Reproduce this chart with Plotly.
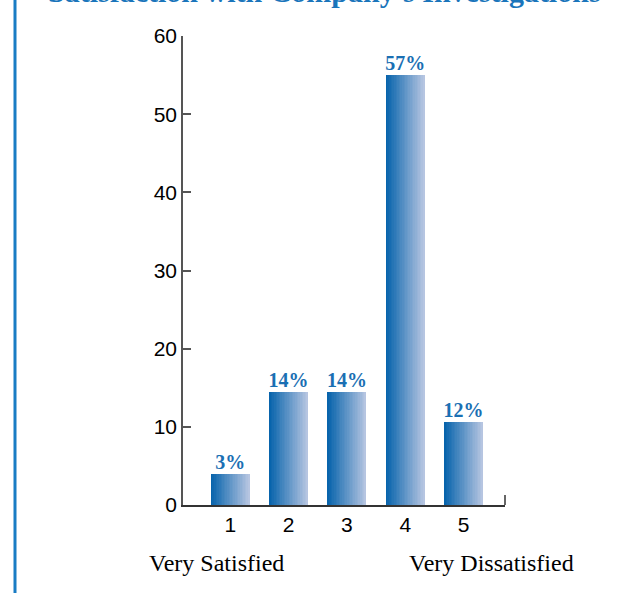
import plotly.graph_objects as go

# ---- data ----
categories = [1, 2, 3, 4, 5]
bar_values = [4.0, 14.5, 14.5, 55.0, 10.6]
bar_labels = ["3%", "14%", "14%", "57%", "12%"]
y_ticks = [0, 10, 20, 30, 40, 50, 60]
title_text = "Satisfaction with Company's Investigations"
left_caption = "Very Satisfied"
right_caption = "Very Dissatisfied"

W, H = 634, 593
L, R, T, B = 183, 129, 36, 88
pw, ph = W - L - R, H - T - B

bar_width = 0.667
n_slices = 24
c0 = (8, 100, 172)
c1 = (182, 197, 225)

fig = go.Figure()
for k in range(n_slices):
    f = k / (n_slices - 1)
    col = "rgb({},{},{})".format(*[round(a + (b - a) * f) for a, b in zip(c0, c1)])
    off = -bar_width / 2 + k * bar_width / n_slices
    fig.add_trace(go.Bar(
        x=categories, y=bar_values,
        width=bar_width - k * bar_width / n_slices,
        offset=off,
        marker=dict(color=col, line=dict(width=0)),
        hoverinfo="skip", showlegend=False,
    ))

fig.add_trace(go.Scatter(
    x=categories, y=bar_values, mode="text",
    text=["<b>" + t + "</b>" for t in bar_labels],
    textposition="top center",
    textfont=dict(family="Liberation Serif", size=20, color="#1a6fb3"),
    showlegend=False, hoverinfo="skip", cliponaxis=False,
))

fig.update_layout(
    width=W, height=H,
    margin=dict(l=L, r=R, t=T, b=B, pad=0),
    paper_bgcolor="white", plot_bgcolor="white",
    barmode="overlay", bargap=0,
    xaxis=dict(
        range=[0.19, 5.71], tickvals=categories, ticks="",
        showgrid=False, zeroline=False,
        showline=True, linecolor="#333333", linewidth=1.5,
        tickfont=dict(family="Liberation Sans", size=21, color="black"),
        fixedrange=True,
    ),
    yaxis=dict(
        range=[0, 60], tickvals=y_ticks, ticks="inside", ticklen=8,
        tickcolor="#555555", tickwidth=1.5,
        showgrid=False, zeroline=False,
        showline=True, linecolor="#555555", linewidth=1.5,
        tickfont=dict(family="Liberation Sans", size=21, color="black"),
        fixedrange=True,
    ),
    font=dict(family="Liberation Sans"),
)

# right-end tick of x axis
fig.add_shape(type="line", xref="paper", yref="paper",
              x0=1, x1=1, y0=0, y1=10 / ph,
              line=dict(color="#333333", width=1.5))

# left blue border line
bx = (15 - L) / pw
fig.add_shape(type="line", xref="paper", yref="paper",
              x0=bx, x1=bx, y0=-B / ph - 0.05, y1=1 + T / ph + 0.05,
              line=dict(color="#1a7cc4", width=3))

# title (cut off at top of page, as in the reference)
fig.add_annotation(text="<b>" + title_text + "</b>", xref="paper", yref="paper",
                   x=(324 - L) / pw, y=(505 - 9.5) / ph,
                   xanchor="center", yanchor="bottom", showarrow=False,
                   font=dict(family="Liberation Serif", size=30, color="#1a75bb"))

fig.add_annotation(text=left_caption, xref="paper", yref="paper",
                   x=(216 - L) / pw, y=(505 - 563) / ph,
                   xanchor="center", yanchor="middle", showarrow=False,
                   font=dict(family="Liberation Serif", size=24, color="black"))
fig.add_annotation(text=right_caption, xref="paper", yref="paper",
                   x=(491 - L) / pw, y=(505 - 563) / ph,
                   xanchor="center", yanchor="middle", showarrow=False,
                   font=dict(family="Liberation Serif", size=24, color="black"))

fig.write_html("out.html")
